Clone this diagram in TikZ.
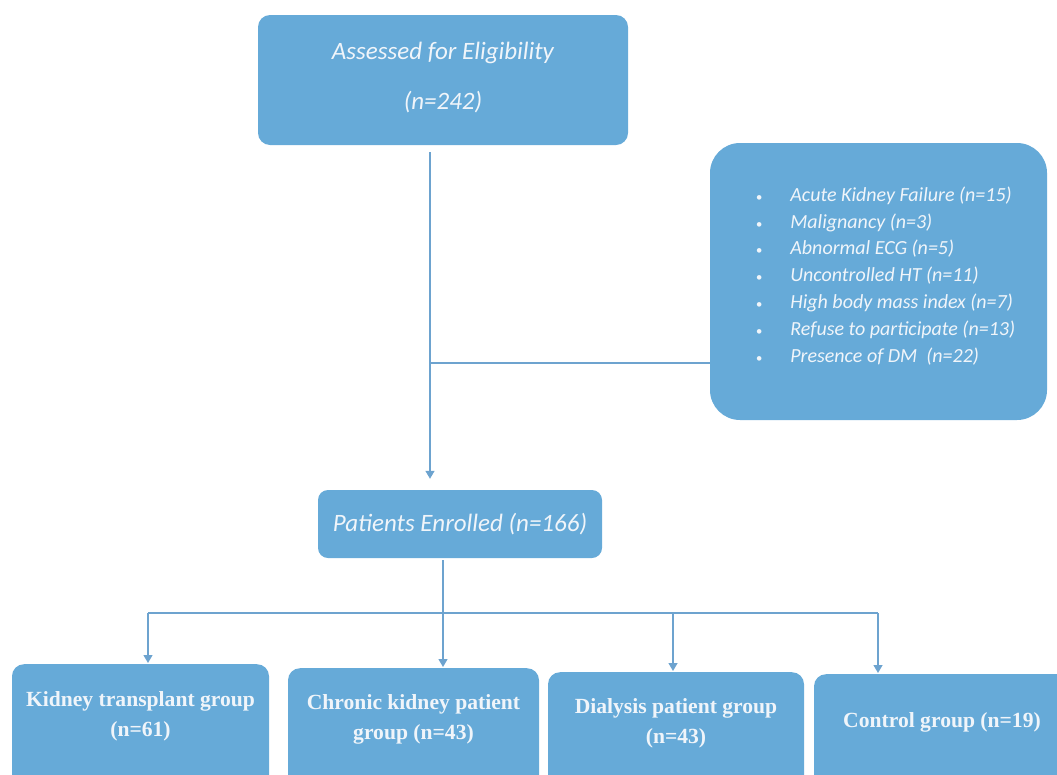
\documentclass[tikz,border=0pt]{standalone}
\usepackage{fontspec}
\setmainfont{Liberation Serif}
\newfontfamily\calfont{Carlito}
\usetikzlibrary{arrows.meta}
\definecolor{boxblue}{HTML}{66AAD8}
\definecolor{lineblue}{HTML}{6DA3CF}
\definecolor{txtc}{HTML}{F0F5FA}
\newcommand{\lift}[2]{\raisebox{#1}[0pt][0pt]{\begin{tabular}{@{}c@{}}#2\end{tabular}}}
\newcommand{\itm}[1]{{\fontsize{13}{13}\selectfont\textbullet} & #1\\}
\begin{document}
\begin{tikzpicture}[x=1pt,y=-1pt,
  box/.style={fill=boxblue, draw=none, rounded corners=12pt, inner sep=0pt, text=txtc, align=center},
  topfont/.style={font=\calfont\itshape\fontsize{25}{50}\selectfont},
  grpbox/.style={box, anchor=north, minimum height=140pt, font=\bfseries\fontsize{21.6}{30}\selectfont},
  conn/.style={draw=lineblue, line width=1.3pt},
  arr/.style={conn, -{Triangle[width=9pt,length=8pt]}}]
\clip (0,0) rectangle (1057,774);
\useasboundingbox (0,0) rectangle (1057,774);

\node[box, topfont, minimum width=370pt, minimum height=130pt] (top) at (443,80)
  {\lift{-1pt}{Assessed for Eligibility\\(n=242)}};

\node[box, rounded corners=30pt, minimum width=337pt, minimum height=277pt,
      font=\calfont\itshape\fontsize{20}{26.8}\selectfont] (excl) at (878.5,281.5)
  {\hspace*{14pt}\raisebox{0pt}[0pt][0pt]{\begin{tabular}{@{}l@{\hspace{28pt}}l@{}}
   \itm{Acute Kidney Failure (n=15)}
   \itm{Malignancy (n=3)}
   \itm{Abnormal ECG (n=5)}
   \itm{Uncontrolled HT (n=11)}
   \itm{High body mass index (n=7)}
   \itm{Refuse to participate (n=13)}
   \itm{Presence of DM\ \ (n=22)}
   \end{tabular}}};

\node[box, rounded corners=10pt, minimum width=284pt, minimum height=68pt,
      font=\calfont\itshape\fontsize{25}{28}\selectfont] (enr) at (460,524)
  {Patients Enrolled (n=166)};

\node[grpbox, minimum width=257pt] (kt) at (140.5,664)
  {\lift{13.5pt}{Kidney transplant group\\(n=61)}};
\node[grpbox, minimum width=251pt] (ck) at (413.5,668)
  {\lift{15pt}{Chronic kidney patient\\group (n=43)}};
\node[grpbox, minimum width=256pt] (dp) at (676,672)
  {\lift{14.5pt}{Dialysis patient group\\(n=43)}};
\node[grpbox, minimum width=256pt] (cg) at (942,674)
  {\lift{18pt}{Control group (n=19)}};

\coordinate (j1) at (430,363);
\draw[conn, shorten <=7pt] ([xshift=-13pt]top.south) -- (j1);
\draw[conn] (j1) -- (excl.west |- j1);
\draw[arr, shorten >=11pt] (j1) -- (j1 |- enr.north);

\coordinate (j2) at (443,613);
\coordinate (b1) at (148,613);
\coordinate (b4) at (878,613);
\coordinate (b3) at (673,613);
\draw[conn, shorten <=2pt] ([xshift=-17pt]enr.south) -- (j2);
\draw[conn] (b1) -- (b4);
\draw[arr, shorten >=1pt] (b1) -- (b1 |- kt.north);
\draw[arr, shorten >=1pt] (j2) -- (j2 |- ck.north);
\draw[arr, shorten >=1pt] (b3) -- (b3 |- dp.north);
\draw[arr, shorten >=1pt] (b4) -- (b4 |- cg.north);
\end{tikzpicture}
\end{document}
